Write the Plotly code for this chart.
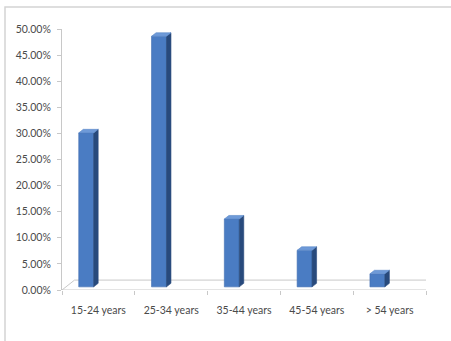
import plotly.graph_objects as go

# Age groups and share of respondents
categories = ["15-24 years", "25-34 years", "35-44 years", "45-54 years", "> 54 years"]
shares = [0.295, 0.480, 0.130, 0.070, 0.025]
y_ticks = [i * 0.05 for i in range(11)]

# Pseudo-3D geometry (x in category units, y in value units)
FACE_L, FACE_R = -0.27, -0.065      # front face extent relative to category centre
SIDE_DX, SIDE_DY = 0.062, 0.0068    # depth of each column
BASE = 0.006                        # column base sits slightly behind the floor front
FLOOR_DX, FLOOR_DY = 0.172, 0.019   # depth of the floor

FRONT = "#4a7cc3"
SIDE = "#284a7c"
TOP = "#6e9ad8"
EDGE = "#c8c8c8"

fig = go.Figure()

# floor plane
n = len(categories)
fx = [-0.5, n - 0.5, n - 0.5 + FLOOR_DX, -0.5 + FLOOR_DX, -0.5]
fy = [0, 0, FLOOR_DY, FLOOR_DY, 0]
fig.add_trace(go.Scatter(x=fx, y=fy, mode="lines", fill="toself",
                         fillcolor="white", line=dict(color=EDGE, width=1),
                         hoverinfo="skip", showlegend=False))

# columns: front, side and top faces
for i, v in enumerate(shares):
    xl, xr = i + FACE_L, i + FACE_R
    top = BASE + v
    fig.add_trace(go.Scatter(
        x=[xl, xr, xr, xl, xl], y=[BASE, BASE, top, top, BASE],
        mode="lines", fill="toself", fillcolor=FRONT,
        line=dict(color="#3f6db0", width=0.6), hoverinfo="skip", showlegend=False))
    fig.add_trace(go.Scatter(
        x=[xr, xr + SIDE_DX, xr + SIDE_DX, xr, xr],
        y=[BASE, BASE + SIDE_DY, top + SIDE_DY, top, BASE],
        mode="lines", fill="toself", fillcolor=SIDE,
        line=dict(color=SIDE, width=0.6), hoverinfo="skip", showlegend=False))
    fig.add_trace(go.Scatter(
        x=[xl, xr, xr + SIDE_DX, xl + SIDE_DX, xl],
        y=[top, top, top + SIDE_DY, top + SIDE_DY, top],
        mode="lines", fill="toself", fillcolor=TOP,
        line=dict(color="#5a88c8", width=0.6), hoverinfo="skip", showlegend=False))

font = dict(family="Lato, 'Open Sans', sans-serif", size=10.5, color="#4a4a4a")

fig.update_layout(
    width=451, height=341,
    margin=dict(l=62, r=25, t=29, b=51),
    paper_bgcolor="white", plot_bgcolor="white",
    showlegend=False,
    font=font,
    xaxis=dict(
        range=[-0.5, n - 0.5], showgrid=False, zeroline=False, showline=False,
        tickmode="array", tickvals=list(range(n)), ticktext=categories,
        ticks="", ticklabelstandoff=12, fixedrange=True,
        minor=dict(tickmode="array", tickvals=[i - 0.5 for i in range(n + 1)],
                   ticks="outside", ticklen=4, tickcolor=EDGE, tickwidth=1),
    ),
    yaxis=dict(
        range=[0, 0.5], showgrid=False, zeroline=False,
        showline=True, linecolor=EDGE, linewidth=1,
        tickmode="array", tickvals=y_ticks, tickformat=".2%",
        ticks="outside", ticklen=4, tickcolor=EDGE, ticklabelstandoff=4,
        fixedrange=True,
    ),
    shapes=[dict(type="rect", xref="paper", yref="paper",
                 x0=(5 - 62) / 364, x1=(460 - 62) / 364,
                 y0=(290 - 350) / 261, y1=(290 - 7) / 261,
                 line=dict(color="#d4d4d4", width=1.5), layer="below")],
)

fig.write_html("out.html")
